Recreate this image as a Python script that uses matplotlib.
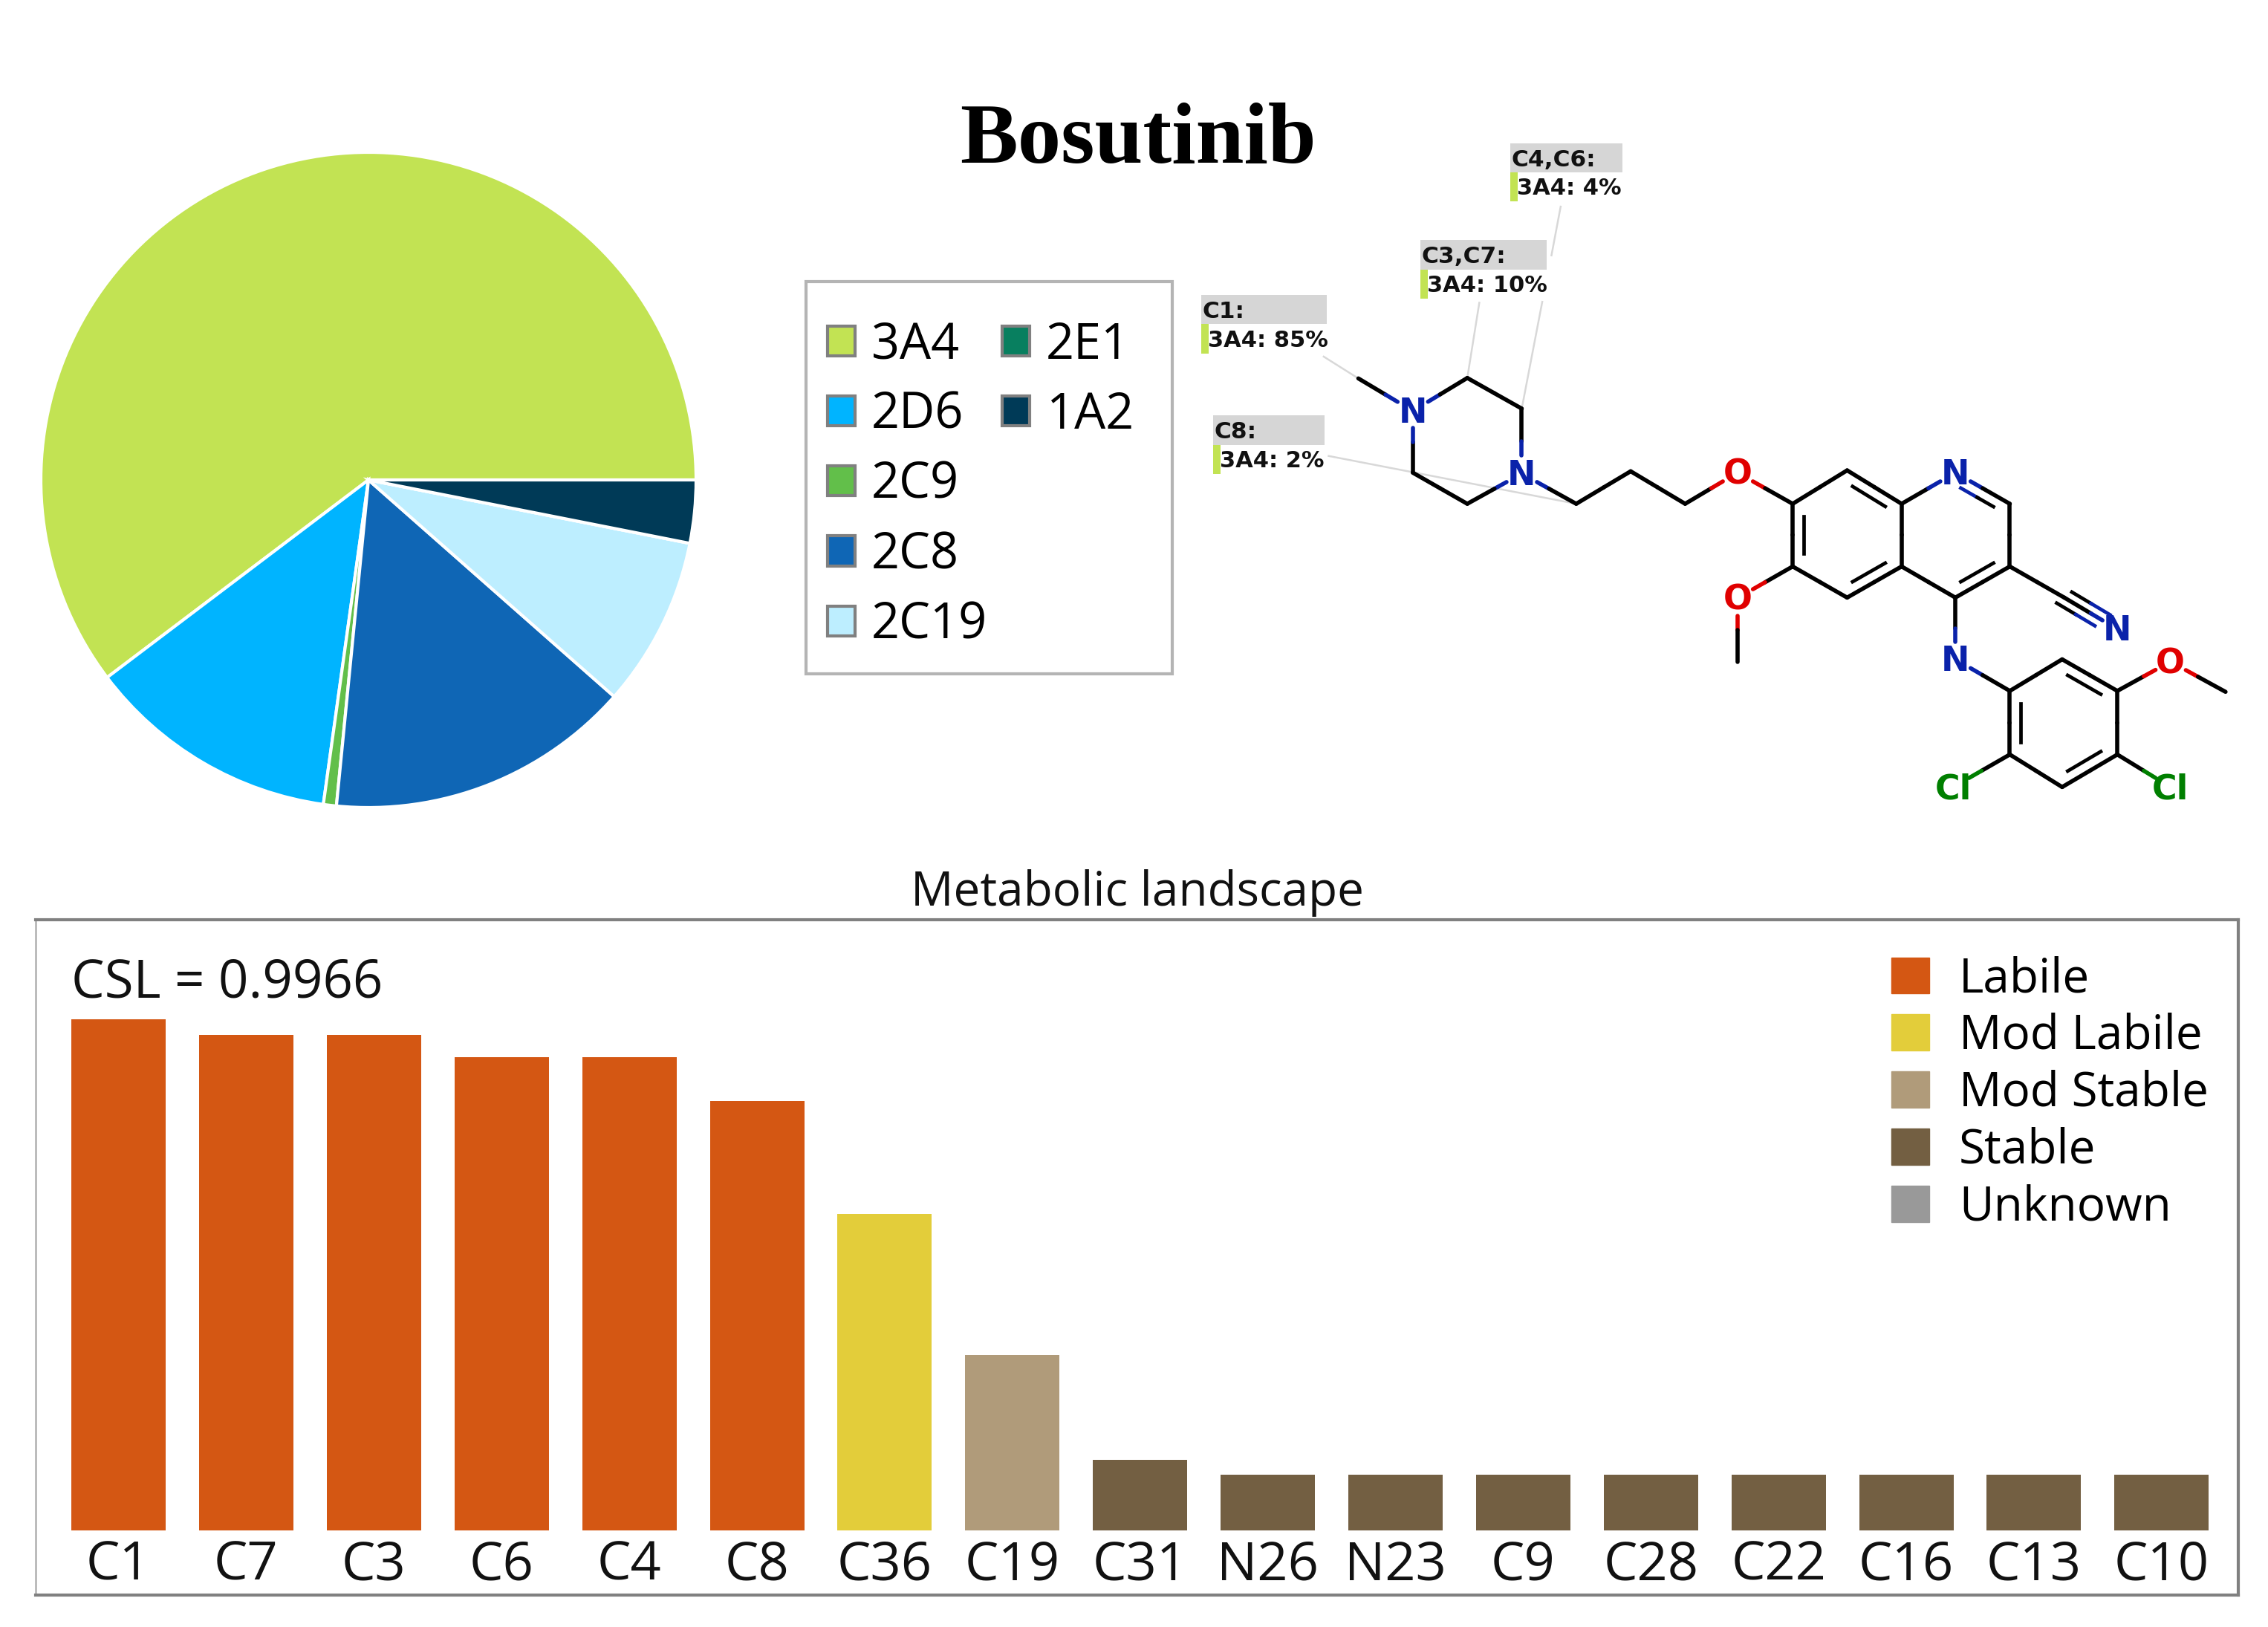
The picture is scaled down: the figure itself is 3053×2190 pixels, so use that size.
import numpy as np
from matplotlib import pyplot as plt
from matplotlib.patches import Patch, Rectangle

W, H = 3053, 2190

# pie
enzymes = ['3A4', '2D6', '2C9', '2C8', '2C19', '2E1', '1A2']
shares = [60.3, 12.5, 0.64, 15.06, 8.4, 0.0, 3.1]
enzyme_colors = ['#c2e353', '#00b4ff', '#62bf4a', '#0f66b5', '#bdeeff', '#087f5f', '#003a57']

# bars
sites = ['C1', 'C7', 'C3', 'C6', 'C4', 'C8', 'C36', 'C19', 'C31', 'N26', 'N23',
         'C9', 'C28', 'C22', 'C16', 'C13', 'C10']
lability = [1.0, 0.97, 0.97, 0.926, 0.926, 0.84, 0.62, 0.343, 0.138, 0.11, 0.11,
            0.11, 0.11, 0.11, 0.11, 0.11, 0.11]
site_class = ['Labile'] * 6 + ['Mod Labile', 'Mod Stable'] + ['Stable'] * 9
classes = ['Labile', 'Mod Labile', 'Mod Stable', 'Stable', 'Unknown']
class_colors = ['#d45713', '#e3cd3a', '#b09b7a', '#735f42', '#999999']

# molecule, in units of the sketch axes
atoms = {
    'me1': (282, 575), 'N1': (359, 645), 'a': (436, 574), 'b': (513, 640), 'N2': (513, 780),
    'c': (436, 845), 'd': (359, 778), 'e': (590, 845), 'f': (667, 775), 'g': (744, 845),
    'O1': (818, 778), 'h': (896, 845), 'i': (973, 773), 'j': (1050, 845), 'N3': (1126, 778),
    'k': (1203, 845), 'l': (1203, 980), 'm': (1126, 1047), 'n': (1050, 980), 'o': (973, 1047),
    'p': (896, 980), 'O2': (818, 1048), 'me2': (818, 1185), 'cn': (1280, 1047), 'N5': (1355, 1115),
    'N4': (1126, 1180), 'q': (1203, 1248), 'r': (1277, 1180), 's': (1355, 1248), 't': (1355, 1385),
    'u': (1277, 1455), 'v': (1203, 1385), 'O3': (1430, 1185), 'me3': (1508, 1250),
    'Cl1': (1123, 1455), 'Cl2': (1430, 1455),
}
single_bonds = [('me1', 'N1'), ('N1', 'a'), ('a', 'b'), ('b', 'N2'), ('N2', 'c'), ('c', 'd'), ('d', 'N1'),
                ('N2', 'e'), ('e', 'f'), ('f', 'g'), ('g', 'O1'), ('O1', 'h'), ('h', 'i'), ('i', 'j'),
                ('j', 'N3'), ('N3', 'k'), ('k', 'l'), ('l', 'm'), ('m', 'n'), ('n', 'j'), ('n', 'o'),
                ('o', 'p'), ('p', 'h'), ('p', 'O2'), ('O2', 'me2'), ('l', 'cn'), ('cn', 'N5'),
                ('m', 'N4'), ('N4', 'q'), ('q', 'r'), ('r', 's'), ('s', 't'), ('t', 'u'), ('u', 'v'),
                ('v', 'q'), ('s', 'O3'), ('O3', 'me3'), ('v', 'Cl1'), ('t', 'Cl2')]
inner_bonds = [('i', 'j', 973, 910), ('h', 'p', 973, 910), ('n', 'o', 973, 910),
               ('N3', 'k', 1126, 910), ('l', 'm', 1126, 910),
               ('q', 'v', 1277, 1318), ('r', 's', 1277, 1318), ('t', 'u', 1277, 1318)]
atom_colors = {'N': '#0a22aa', 'O': '#e00000', 'Cl': '#007f00'}

# callouts: site, enzyme text, left, top, box width
callouts = [('C4,C6:', '3A4: 4%', 497, 68, 158), ('C3,C7:', '3A4: 10%', 370, 277, 178),
            ('C1:', '3A4: 85%', 60, 395, 177), ('C8:', '3A4: 2%', 77, 655, 157)]
leaders = [((233, 528), (282, 575)), ((453, 412), (436, 574)), ((542, 410), (513, 640)),
           ((568, 205), (555, 310)), ((240, 742), (590, 845))]


def px_axes(left, top, right, bottom):
    return fig.add_axes([left / W, 1 - bottom / H, (right - left) / W, (bottom - top) / H])


def label_of(name):
    if name.startswith('Cl'):
        return 'Cl'
    if name[0] in 'NO' and name[1:].isdigit():
        return name[0]
    return None


fig = plt.figure(figsize=(W / 100, H / 100), dpi=100, facecolor='white')
plt.rcParams['font.family'] = 'Open Sans'

# pie
ax_pie = px_axes(55, 205, 937, 1087)
ax_pie.pie(shares, colors=enzyme_colors, startangle=0, counterclock=True, radius=1,
           wedgeprops={'edgecolor': 'white', 'linewidth': 3})
ax_pie.set_xlim(-1, 1)
ax_pie.set_ylim(-1, 1)

handles = [Patch(facecolor=c, edgecolor='#808080', linewidth=3, label=e)
           for e, c in zip(enzymes[:5], enzyme_colors[:5])]
handles += [Patch(facecolor=c, edgecolor='#808080', linewidth=3, label=e)
            for e, c in zip(enzymes[5:], enzyme_colors[5:])]
# blanks so the second column stops after two rows
handles += [Patch(facecolor='none', edgecolor='none', label=' ') for i in range(3)]
fig.add_artist(Rectangle((1085 / W, 1 - 907 / H), 493 / W, 528 / H, transform=fig.transFigure,
                         facecolor='white', edgecolor='#b4b4b4', linewidth=3))
fig.legend(handles=handles, ncols=2, prop={'family': 'Open Sans', 'size': 48},
           loc='upper left', bbox_to_anchor=(1114 / W, 1 - 431 / H), frameon=False,
           borderaxespad=0, borderpad=0, handlelength=0.55, handleheight=0.55,
           handletextpad=0.33, labelspacing=0.40, columnspacing=0.3)

# bars
ax = px_axes(48, 1238, 3013, 2147)
x = np.arange(len(sites))
colors = [class_colors[classes.index(c)] for c in site_class]
ax.bar(x, lability, width=0.739, color=colors)
ax.set_xlim(-0.649, 16.6)
ax.set_ylim(-0.126, 1.195)
ax.set_xticks(x)
ax.set_xticklabels(sites, fontsize=52, color='#111111')
ax.tick_params(axis='x', length=0, pad=-54)
ax.set_yticks([])
for side in ['top', 'bottom', 'right']:
    ax.spines[side].set_color('#808080')
    ax.spines[side].set_linewidth(3)
ax.spines['left'].set_color('#b8b8b8')
ax.spines['left'].set_linewidth(2)
ax.set_title('Metabolic landscape', fontsize=46, color='#111111', pad=14)
ax.text(-0.37, 1.071, 'CSL = 0.9966', fontsize=51, color='#111111', va='center', ha='left')
ax.legend(handles=[Patch(color=c, label=k) for k, c in zip(classes, class_colors)],
          loc='upper right', bbox_to_anchor=(0.9865, 0.947), frameon=False, borderaxespad=0, borderpad=0,
          prop={'family': 'Open Sans', 'size': 46}, handlelength=0.8, handleheight=0.8,
          handletextpad=0.63, labelspacing=0.2)

fig.text(1532 / W, 1 - 191 / H, 'Bosutinib', family='Liberation Serif', weight='bold',
         fontsize=84, ha='center', va='center', color='black')

# molecule sketch
ax_mol = px_axes(1560, 150, 3053, 1130)
ax_mol.set_xlim(0, 1568)
ax_mol.set_ylim(1568, 0)
ax_mol.axis('off')
ax_mol.patch.set_alpha(0)

for p0, p1 in leaders:
    ax_mol.plot([p0[0], p1[0]], [p0[1], p1[1]], color='#d8d8d8', lw=1.8, zorder=1)

for a0, a1 in single_bonds:
    p0 = np.array(atoms[a0], dtype=float)
    p1 = np.array(atoms[a1], dtype=float)
    mid = (p0 + p1) / 2
    for name, p, other in [(a0, p0, p1), (a1, p1, p0)]:
        lab = label_of(name)
        col = 'black'
        start = p
        if lab:
            col = atom_colors[lab]
            start = p + (other - p) * 0.28
        ax_mol.plot([start[0], mid[0]], [start[1], mid[1]], color=col, lw=4,
                    solid_capstyle='round', zorder=2)

for a0, a1, cx, cy in inner_bonds:
    p0 = np.array(atoms[a0], dtype=float)
    p1 = np.array(atoms[a1], dtype=float)
    c = np.array([cx, cy], dtype=float)
    q0 = p0 + (c - p0) * 0.2 + (p1 - p0) * 0.1
    q1 = p1 + (c - p1) * 0.2 + (p0 - p1) * 0.1
    if label_of(a0):
        mid = (q0 + q1) / 2
        ax_mol.plot([q0[0], mid[0]], [q0[1], mid[1]], color=atom_colors[label_of(a0)], lw=3.4, zorder=2)
        ax_mol.plot([mid[0], q1[0]], [mid[1], q1[1]], color='black', lw=3.4, zorder=2)
    else:
        ax_mol.plot([q0[0], q1[0]], [q0[1], q1[1]], color='black', lw=3.4, zorder=2)

# triple bond side lines
pc = np.array(atoms['cn'], dtype=float)
pn = np.array(atoms['N5'], dtype=float)
d = (pn - pc) / np.linalg.norm(pn - pc)
nrm = np.array([-d[1], d[0]]) * 16
for sgn in (-1, 1):
    s0 = pc + nrm * sgn
    s1 = pc + (pn - pc) * 0.72 + nrm * sgn
    m = (s0 + s1) / 2
    ax_mol.plot([s0[0], m[0]], [s0[1], m[1]], color='black', lw=3.4, zorder=2)
    ax_mol.plot([m[0], s1[0]], [m[1], s1[1]], color=atom_colors['N'], lw=3.4, zorder=2)

for name, p in atoms.items():
    lab = label_of(name)
    if lab:
        ax_mol.text(p[0], p[1] + 5, lab, color=atom_colors[lab], family='DejaVu Sans', weight='bold',
                    fontsize=33, ha='center', va='center', zorder=3)

for site, txt, left, top, w in callouts:
    ax_mol.add_patch(Rectangle((left, top), w, 63, facecolor='#d6d6d6', edgecolor='none', zorder=2))
    ax_mol.add_patch(Rectangle((left, top + 63), 10, 63, facecolor='#c2e353', edgecolor='none', zorder=2))
    ax_mol.text(left + 1, top + 36, site, family='DejaVu Sans', weight='bold', fontsize=22.5,
                ha='left', va='center', color='#111111', zorder=3)
    ax_mol.text(left + 9, top + 98, txt, family='DejaVu Sans', weight='bold', fontsize=22,
                ha='left', va='center', color='#111111', zorder=3)

fig.savefig('out.png', dpi=100)
